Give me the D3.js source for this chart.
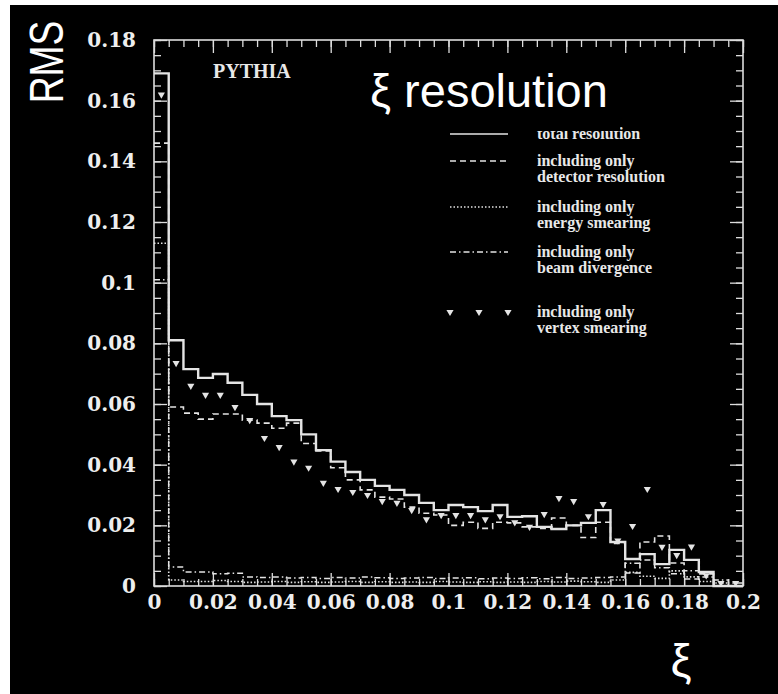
<!DOCTYPE html>
<html lang="en">
<head>
<meta charset="UTF-8" />
<title>xi resolution</title>
<style>
  html, body { margin: 0; padding: 0; background: #fff; }
  svg { display: block; }
  .tick text { fill: #eee; font-family: "DejaVu Serif", serif; font-weight: bold; font-size: 20px; }
  .tick line { stroke: #ddd; stroke-width: 1.3; }
  .domain { display: none; }
  .leg { fill: #e8e8e8; font-family: "Liberation Serif", serif; font-weight: bold; font-size: 16px; }
</style>
</head>
<body>
<svg width="778" height="694"></svg>
<script src="https://d3js.org/d3.v7.min.js"></script>
<script>
  // bins of width 0.005 from 0 to 0.2
  const binWidth = 0.005;
  const xTicks = [0, 0.02, 0.04, 0.06, 0.08, 0.1, 0.12, 0.14, 0.16, 0.18, 0.2];
  const yTicks = [0, 0.02, 0.04, 0.06, 0.08, 0.1, 0.12, 0.14, 0.16, 0.18];

  const total = [0.169, 0.081, 0.0715, 0.0686, 0.0699, 0.067, 0.063, 0.060, 0.056, 0.0547,
    0.050, 0.0448, 0.041, 0.0376, 0.035, 0.033, 0.0317, 0.030, 0.0274, 0.025,
    0.0267, 0.026, 0.0247, 0.0267, 0.0228, 0.023, 0.0195, 0.0188, 0.020, 0.0208,
    0.025, 0.0145, 0.0089, 0.0105, 0.0072, 0.0119, 0.0086, 0.0046, 0, 0];
  const detector = [0.146, 0.059, 0.057, 0.055, 0.0567, 0.0567, 0.0547, 0.0537, 0.052, 0.0537,
    0.047, 0.0445, 0.039, 0.035, 0.0317, 0.0293, 0.0287, 0.026, 0.024, 0.0234,
    0.020, 0.021, 0.019, 0.021, 0.0208, 0.0195, 0.019, 0.0224, 0.020, 0.016,
    0.021, 0.014, 0.0043, 0.0145, 0.0165, 0.0076, 0.0023, 0.004, 0, 0];
  const energy = [0.113, 0.002, 0.0015, 0.0015, 0.0018, 0.0015, 0.0012, 0.0013, 0.0015, 0.0012,
    0.0014, 0.0012, 0.0013, 0.0015, 0.0012, 0.0014, 0.0012, 0.0013, 0.0012, 0.0015,
    0.0013, 0.0012, 0.0014, 0.0012, 0.0013, 0.0012, 0.0015, 0.0013, 0.0016, 0.0014,
    0.0012, 0.002, 0.0045, 0.0032, 0.0025, 0.005, 0.003, 0.0015, 0.001, 0];
  const beam = [0.101, 0.0063, 0.0046, 0.0046, 0.004, 0.0042, 0.003, 0.0028, 0.003, 0.0026,
    0.0028, 0.0025, 0.0028, 0.0026, 0.003, 0.0027, 0.0025, 0.0026, 0.0028, 0.0025,
    0.0026, 0.0027, 0.0024, 0.0026, 0.0025, 0.0027, 0.0024, 0.0028, 0.0025, 0.0026,
    0.0028, 0.003, 0.0075, 0.0086, 0.006, 0.004, 0.005, 0.003, 0.002, 0.001];
  const vertex = [0.162, 0.0735, 0.066, 0.063, 0.063, 0.059, 0.0547, 0.0488, 0.0458, 0.041,
    0.039, 0.034, 0.032, 0.031, 0.030, 0.028, 0.0274, 0.025, 0.022, 0.0234,
    0.0234, 0.0234, 0.022, 0.023, 0.021, 0.0195, 0.0237, 0.029, 0.028, 0.023,
    0.027, 0.015, 0.0198, 0.032, 0.0129, 0.0102, 0.013, 0.0035, 0.001, 0.001];

  const legendItems = [
    { style: "solid", lines: ["total resolution"] },
    { style: "dashed", lines: ["including only", "detector resolution"] },
    { style: "dotted", lines: ["including only", "energy smearing"] },
    { style: "dashdot", lines: ["including only", "beam divergence"] },
    { style: "marker", lines: ["including only", "vertex smearing"] }
  ];

  const styles = {
    solid: { dash: null, width: 2.4 },
    dashed: { dash: "6,4", width: 1.6 },
    dotted: { dash: "1.5,2", width: 1.6 },
    dashdot: { dash: "6,3,1.5,3", width: 1.5 }
  };
  const ink = "#e4e4e4";

  const svg = d3.select("svg");

  // black picture area, with the thin white margin at top and left
  svg.append("rect").attr("x", 10).attr("y", 5).attr("width", 768).attr("height", 689).attr("fill", "#000");

  const m = { left: 154, top: 40, right: 743, bottom: 586 };
  const x = d3.scaleLinear().domain([0, 0.2]).range([m.left, m.right]);
  const y = d3.scaleLinear().domain([0, 0.18]).range([m.bottom, m.top]);

  const minorX = d3.range(0, 41).map(i => i * binWidth);
  const minorY = d3.range(0, 37).map(i => i * binWidth);

  // ticks, all pointing into the frame
  svg.append("g").attr("transform", `translate(0,${m.bottom})`)
    .call(d3.axisBottom(x).tickValues(minorX).tickSize(-7).tickFormat(""));
  svg.append("g").attr("transform", `translate(0,${m.bottom})`)
    .call(d3.axisBottom(x).tickValues(xTicks).tickSize(-13).tickPadding(9)
      .tickFormat(d => d === 0 ? "0" : d3.format("~g")(d)));
  svg.append("g").attr("transform", `translate(0,${m.top})`)
    .call(d3.axisTop(x).tickValues(minorX).tickSize(-7).tickFormat(""));
  svg.append("g").attr("transform", `translate(0,${m.top})`)
    .call(d3.axisTop(x).tickValues(xTicks).tickSize(-13).tickFormat(""));

  svg.append("g").attr("transform", `translate(${m.left},0)`)
    .call(d3.axisLeft(y).tickValues(minorY).tickSize(-7).tickFormat(""));
  svg.append("g").attr("transform", `translate(${m.left},0)`)
    .call(d3.axisLeft(y).tickValues(yTicks).tickSize(-13).tickPadding(18)
      .tickFormat(d => d === 0 ? "0" : d3.format("~g")(d)));
  svg.append("g").attr("transform", `translate(${m.right},0)`)
    .call(d3.axisRight(y).tickValues(minorY).tickSize(-7).tickFormat(""));
  svg.append("g").attr("transform", `translate(${m.right},0)`)
    .call(d3.axisRight(y).tickValues(yTicks).tickSize(-13).tickFormat(""));

  svg.append("rect")
    .attr("x", m.left).attr("y", m.top)
    .attr("width", m.right - m.left).attr("height", m.bottom - m.top)
    .attr("fill", "none").attr("stroke", "#ddd").attr("stroke-width", 1.6);

  // histograms as steps
  const step = d3.line().x(d => x(d[0])).y(d => y(d[1])).curve(d3.curveStepAfter);
  function hist(vals) {
    const pts = vals.map((v, i) => [i * binWidth, v]);
    pts.push([vals.length * binWidth, vals[vals.length - 1]]);
    return pts;
  }
  const series = [
    { vals: beam, style: "dashdot" },
    { vals: energy, style: "dotted" },
    { vals: detector, style: "dashed" },
    { vals: total, style: "solid" }
  ];
  series.forEach(s => {
    svg.append("path")
      .attr("d", step(hist(s.vals)))
      .attr("fill", "none")
      .attr("stroke", ink)
      .attr("stroke-width", styles[s.style].width)
      .attr("stroke-dasharray", styles[s.style].dash);
  });

  const tri = d3.symbol().type(d3.symbolTriangle).size(22);
  svg.append("g").selectAll("path")
    .data(vertex)
    .join("path")
    .attr("d", tri)
    .attr("fill", ink)
    .attr("transform", (d, i) => `translate(${x((i + 0.5) * binWidth)},${y(d)}) rotate(180)`);

  // legend
  const legY = [134, 161, 207, 252, 312];
  const lx0 = 450, lx1 = 508, tx = 537;
  legendItems.forEach((item, i) => {
    const g = svg.append("g").attr("transform", `translate(0,${legY[i]})`);
    if (item.style === "marker") {
      [lx0, (lx0 + lx1) / 2, lx1].forEach(px => {
        g.append("path").attr("d", tri).attr("fill", ink)
          .attr("transform", `translate(${px},0) rotate(180)`);
      });
    } else {
      g.append("line").attr("x1", lx0).attr("x2", lx1)
        .attr("stroke", ink)
        .attr("stroke-width", 1.4)
        .attr("stroke-dasharray", styles[item.style].dash);
    }
    item.lines.forEach((t, j) => {
      g.append("text").attr("class", "leg")
        .attr("x", tx).attr("y", j * 16 + 5).text(t);
    });
  });

  svg.append("text")
    .attr("x", 213).attr("y", 78)
    .attr("fill", "#e8e8e8")
    .style("font-family", "'Liberation Serif', serif")
    .style("font-weight", "bold")
    .style("font-size", "20px")
    .text("PYTHIA");

  // title box hides the top of the first legend entry
  svg.append("rect").attr("x", 355).attr("y", 60).attr("width", 265).attr("height", 71).attr("fill", "#000");
  svg.append("text")
    .attr("x", 370).attr("y", 107)
    .attr("fill", "#fff")
    .style("font-family", "'Liberation Sans', Arial, sans-serif")
    .style("font-size", "47px")
    .text("ξ resolution");

  svg.append("text")
    .attr("transform", "translate(63,62) rotate(-90) scale(0.76,1)")
    .attr("text-anchor", "middle")
    .attr("fill", "#fff")
    .style("font-family", "'Liberation Sans', Arial, sans-serif")
    .style("font-size", "49px")
    .text("RMS");

  svg.append("text")
    .attr("x", 681).attr("y", 677)
    .attr("text-anchor", "middle")
    .attr("fill", "#fff")
    .style("font-family", "'Liberation Sans', Arial, sans-serif")
    .style("font-size", "47px")
    .text("ξ");
</script>
</body>
</html>
